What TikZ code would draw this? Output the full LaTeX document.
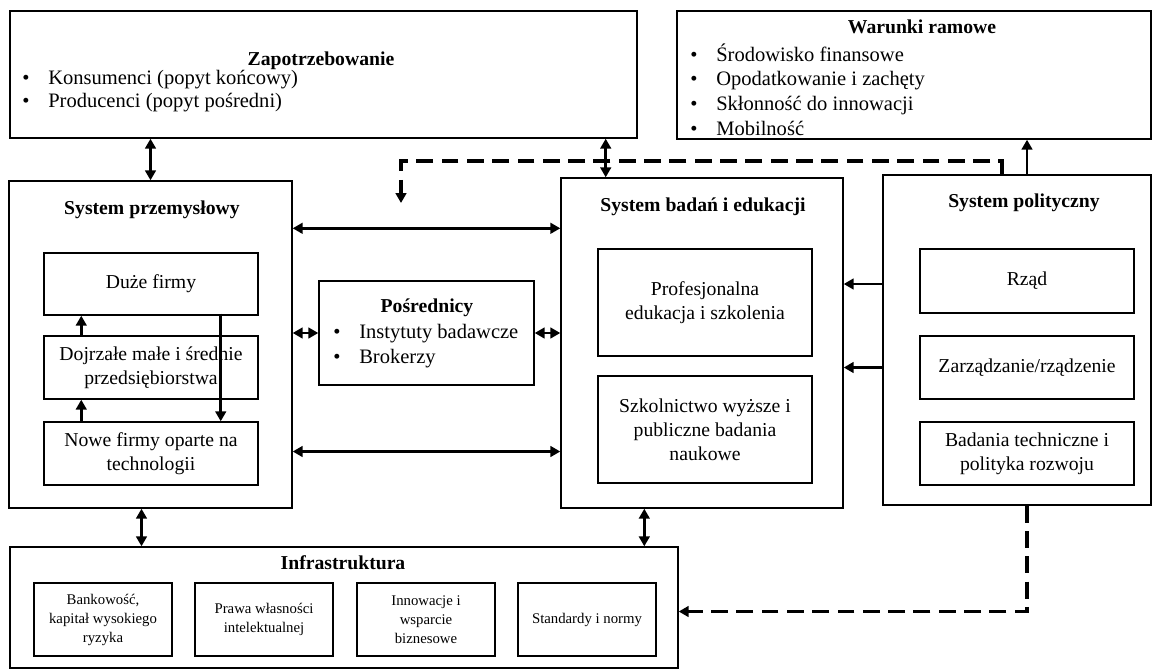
\documentclass[tikz,border=0pt]{standalone}
\usepackage{fontspec}
\setmainfont{Liberation Serif}
\usetikzlibrary{arrows.meta,positioning,calc,fit}
\newcommand{\itm}[1]{\makebox[0.65cm][l]{\textbullet}#1}

\begin{document}
\begin{tikzpicture}[x=0.025cm, y=-0.025cm,
  box/.style={rectangle, draw, line width=1pt, inner sep=0pt},
  inbox/.style={rectangle, draw, line width=1pt, align=center, minimum width=5.35cm, inner sep=1pt, font=\fontsize{14}{17}\selectfont},
  smbox/.style={rectangle, draw, line width=1pt, align=center, minimum width=3.45cm, minimum height=1.82cm, inner sep=1pt, font=\fontsize{10.5}{13.5}\selectfont},
  ttl/.style={font=\fontsize{14}{17}\selectfont\bfseries},
  lst/.style={align=left, anchor=west, inner sep=0pt},
  arr/.style={-{Triangle[length=7pt,width=7.5pt]}, line width=2pt},
  dbl/.style={{Triangle[length=7pt,width=7.5pt]}-{Triangle[length=7pt,width=7.5pt]}, line width=2pt},
  dsh/.style={-{Triangle[length=7pt,width=7.5pt]}, line width=2.6pt, dash pattern=on 12pt off 6pt}
]
  \useasboundingbox (0,0) rectangle (1154,671);

  % outer boxes
  \node[box, fit={(10,11) (637,138)}]  (zap) {};
  \node[box, fit={(677,11) (1151,139)}] (war) {};
  \node[box, fit={(9,181) (292,508)}]  (prz) {};
  \node[box, fit={(319,281) (534,385)}] (pos) {};
  \node[box, fit={(561,178) (843,508)}] (bad) {};
  \node[box, fit={(883,175) (1151,505)}] (pol) {};
  \node[box, fit={(10,547) (678,668)}]  (ind) {};

  % titles and lists
  \node[ttl] (zapT) at (321,61) {Zapotrzebowanie};
  \node[lst, font=\fontsize{14.6}{16.3}\selectfont] (zapL) at (22,91)
    {\itm{Konsumenci (popyt końcowy)}\\\itm{Producenci (popyt pośredni)}};
  \node[ttl] (warT) at (922,27) {Warunki ramowe};
  \node[lst, font=\fontsize{14.6}{17.5}\selectfont] (warL) at (690,89.5)
    {\itm{Środowisko finansowe}\\\itm{Opodatkowanie i zachęty}\\\itm{Skłonność do innowacji}\\\itm{Mobilność}};
  \node[ttl] (przT) at (152,210) {System przemysłowy};
  \node[ttl] (posT) at (427,308) {Pośrednicy};
  \node[lst, font=\fontsize{14.6}{17.7}\selectfont] (posL) at (333,346)
    {\itm{Instytuty badawcze}\\\itm{Brokerzy}};
  \node[ttl] (badT) at (703,207) {System badań i edukacji};
  \node[ttl] (polT) at (1024,203) {System polityczny};
  \node[ttl] (indT) at (343,563) {Infrastruktura};

  % inner boxes
  \node[inbox, minimum height=1.55cm]  (duze)  at (151,284)   {Duże firmy};
  \node[inbox, minimum height=1.575cm] (dojrz) at (151,367.5) {Dojrzałe małe i średnie\\przedsiębiorstwa};
  \node[inbox, minimum height=1.575cm] (nowe)  at (151,453.5) {Nowe firmy oparte na\\technologii};
  \node[inbox, minimum height=2.675cm] (prof)  at (705,302.5) {Profesjonalna\\edukacja i szkolenia};
  \node[inbox, minimum height=2.675cm] (szk)   at (705,429.5) {Szkolnictwo wyższe i\\publiczne badania\\naukowe};
  \node[inbox, minimum height=1.6cm]   (rzad)  at (1027,281)  {Rząd};
  \node[inbox, minimum height=1.575cm] (zarz)  at (1027,367.5) {Zarządzanie/rządzenie};
  \node[inbox, minimum height=1.575cm] (btech) at (1027,453.5) {Badania techniczne i\\polityka rozwoju};
  \node[smbox] (bank) at (103,619.5) {Bankowość,\\kapitał wysokiego\\ryzyka};
  \node[smbox] (praw) at (264,619.5) {Prawa własności\\intelektualnej};
  \node[smbox] (inno) at (426,619.5) {Innowacje i\\wsparcie\\biznesowe};
  \node[smbox] (stan) at (587,619.5) {Standardy i normy};

  % connectors
  \draw[dbl] (zap.south -| prz.north) -- (prz.north);
  \draw[dbl] ($(zap.south east)+(-32,0)$) coordinate (z1) -- (z1 |- bad.north);
  \draw[arr] (pol.north -| rzad) -- (war.south -| rzad);
  \coordinate (dend) at (401,203);
  \draw[dsh] ($(pol.north west)+(120,0)$) -- ++(0,-13) -| (dend);
  \draw[dbl] ($(prz.north east)+(0,48)$) coordinate (h1) -- (h1 -| bad.west);
  \draw[dbl] ($(nowe.east -| prz.east)+(0,-2)$) coordinate (h2) -- (h2 -| bad.west);
  \draw[dbl] (pos.west -| prz.east) -- (pos.west);
  \draw[dbl] (pos.east) -- (pos.east -| bad.west);
  \draw[arr] ($(rzad.west -| pol.west)+(0,3)$) coordinate (p1) -- (p1 -| bad.east);
  \draw[arr] (zarz -| pol.west) -- (zarz -| bad.east);
  \draw[arr] ($(dojrz.north west)+(38,0)$) coordinate (u1) -- (u1 |- duze.south);
  \draw[arr] ($(nowe.north west)+(38,0)$) coordinate (u2) -- (u2 |- dojrz.south);
  \draw[arr] ($(duze.south east)+(-38,-2)$) coordinate (d1) -- (d1 |- nowe.north);
  \draw[dbl] ($(prz.south)+(-9,0)$) coordinate (v1) -- (v1 |- ind.north);
  \draw[dbl] ($(bad.south west)+(84,0)$) coordinate (v2) -- (v2 |- ind.north);
  \draw[dsh] (pol.south -| rzad) |- ($(ind.east)+(0,4)$);
\end{tikzpicture}
\end{document}
